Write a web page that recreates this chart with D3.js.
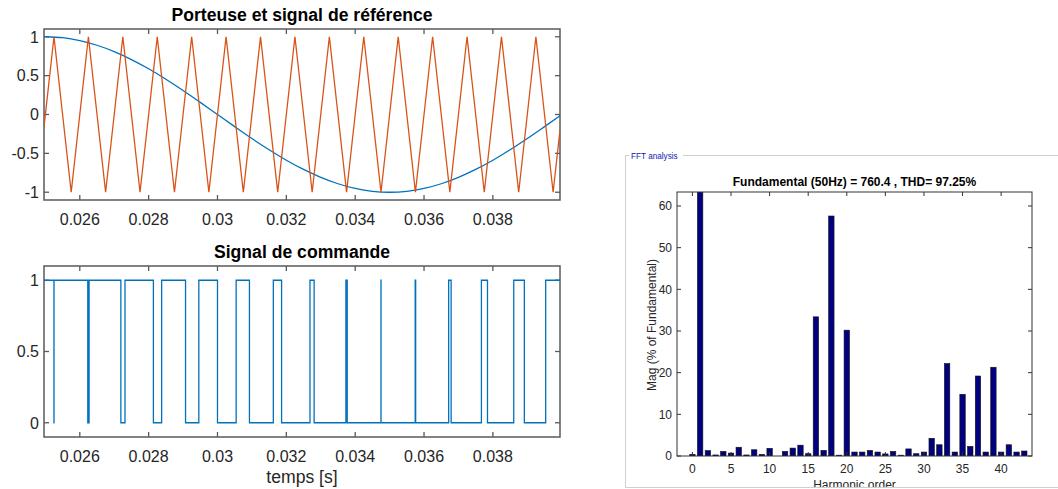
<!DOCTYPE html>
<html>
<head>
<meta charset="utf-8">
<script src="https://cdn.jsdelivr.net/npm/d3@7"></script>
<style>
  body { margin: 0; background: #fff; }
  svg { display: block; font-family: "Liberation Sans", Arial, Helvetica, sans-serif; }
</style>
</head>
<body>
<svg id="chart" width="1058" height="489"></svg>
<script>
// ---------- time-domain signals (s) ----------
const timeRange = [0.02496, 0.03995];

// reference: 50 Hz sinusoid
const refTimes = [0.0250, 0.0255, 0.0260, 0.0265, 0.0270, 0.0275, 0.0280, 0.0285, 0.0290, 0.0295,
                  0.0300, 0.0305, 0.0310, 0.0315, 0.0320, 0.0325, 0.0330, 0.0335, 0.0340, 0.0345,
                  0.0350, 0.0355, 0.0360, 0.0365, 0.0370, 0.0375, 0.0380, 0.0385, 0.0390, 0.0395, 0.0400];
const refValues = [1.000, 0.988, 0.951, 0.891, 0.809, 0.707, 0.588, 0.454, 0.309, 0.156,
                   0.000, -0.156, -0.309, -0.454, -0.588, -0.707, -0.809, -0.891, -0.951, -0.988,
                   -1.000, -0.988, -0.951, -0.891, -0.809, -0.707, -0.588, -0.454, -0.309, -0.156, 0.000];

// carrier: 1 kHz triangle (vertices)
const carrierTimes = [0.02496, 0.02525, 0.02575, 0.02625, 0.02675, 0.02725, 0.02775, 0.02825, 0.02875,
                      0.02925, 0.02975, 0.03025, 0.03075, 0.03125, 0.03175, 0.03225, 0.03275,
                      0.03325, 0.03375, 0.03425, 0.03475, 0.03525, 0.03575, 0.03625, 0.03675,
                      0.03725, 0.03775, 0.03825, 0.03875, 0.03925, 0.03975, 0.03995];
const carrierValues = [-0.16, 1, -1, 1, -1, 1, -1, 1, -1,
                       1, -1, 1, -1, 1, -1, 1, -1,
                       1, -1, 1, -1, 1, -1, 1, -1,
                       1, -1, 1, -1, 1, -1, -0.2];

// command signal: switching instants and the level taken at each one
const cmdTimes = [0.02496, 0.0252492, 0.0252508, 0.0262315, 0.0262696, 0.0271930, 0.0273132,
                  0.0281380, 0.0283776, 0.0290719, 0.0294576, 0.0300000, 0.0305424, 0.0309282,
                  0.0316219, 0.0318620, 0.0326868, 0.0328070, 0.0337301, 0.0337688, 0.0347492,
                  0.0347508, 0.0357432, 0.0357571, 0.0367155, 0.0367875, 0.0376670, 0.0378435,
                  0.0386060, 0.0389142, 0.0395341, 0.03995];
const cmdLevels = [1, 0, 1, 0, 1, 0, 1,
                   0, 1, 0, 1, 0, 1, 0,
                   1, 0, 1, 0, 1, 0, 1,
                   0, 1, 0, 1, 0, 1, 0,
                   1, 0, 1, 1];

const timeTicks = [0.026, 0.028, 0.030, 0.032, 0.034, 0.036, 0.038];
const timeTickLabels = ["0.026", "0.028", "0.03", "0.032", "0.034", "0.036", "0.038"];
const topYTicks = [-1, -0.5, 0, 0.5, 1];
const topYTickLabels = ["-1", "-0.5", "0", "0.5", "1"];
const cmdYTicks = [0, 0.5, 1];
const cmdYTickLabels = ["0", "0.5", "1"];

// ---------- harmonic spectrum (% of fundamental) ----------
const harmonicOrders = [0, 1, 2, 3, 4, 5, 6, 7, 8, 9, 10, 11, 12, 13, 14, 15, 16, 17, 18, 19, 20, 21,
                        22, 23, 24, 25, 26, 27, 28, 29, 30, 31, 32, 33, 34, 35, 36, 37, 38, 39, 40, 41, 42, 43];
const harmonicMag = [0.4, 100, 1.3, 0.25, 1.1, 0.7, 2.1, 0.25, 1.5, 0.4, 1.85, 0, 1.1, 1.9, 2.6, 0.55,
                     33.4, 1.35, 57.6, 0.2, 30.2, 0.95, 0.95, 1.35, 0.95, 0.5, 1.1, 0.2, 1.7, 0.55,
                     0.95, 4.25, 2.7, 22.2, 0.95, 14.8, 2.3, 19.2, 0.95, 21.3, 0.95, 2.7, 0.95, 1.2];
const fftXTicks = [0, 5, 10, 15, 20, 25, 30, 35, 40];
const fftYTicks = [0, 10, 20, 30, 40, 50, 60];
const fftTitle = "Fundamental (50Hz) = 760.4 , THD= 97.25%";

// ---------- drawing ----------
const svg = d3.select("#chart");
svg.append("rect").attr("width", 1058).attr("height", 489).attr("fill", "#fff");
const defs = svg.append("defs");

const TXT = "#262626", AX = "#5a5a5a";
const BLUE = "#0072BD", ORANGE = "#D95319";

function timeAxes(id, box, yDomain, yTicks, yLabels, title) {
  const x = d3.scaleLinear().domain(timeRange).range([box.x0, box.x1]);
  const y = d3.scaleLinear().domain(yDomain).range([box.y1, box.y0]);
  const g = svg.append("g");
  defs.append("clipPath").attr("id", id)
    .append("rect").attr("x", box.x0).attr("y", box.y0)
    .attr("width", box.x1 - box.x0).attr("height", box.y1 - box.y0);

  const tl = 5;
  // x ticks (bottom and top, pointing inward)
  timeTicks.forEach((t, i) => {
    const px = x(t);
    g.append("line").attr("x1", px).attr("x2", px).attr("y1", box.y1).attr("y2", box.y1 - tl)
      .attr("stroke", AX).attr("stroke-width", 1.3);
    g.append("line").attr("x1", px).attr("x2", px).attr("y1", box.y0).attr("y2", box.y0 + tl)
      .attr("stroke", AX).attr("stroke-width", 1.3);
    g.append("text").attr("x", px).attr("y", box.y1 + 24.5).attr("text-anchor", "middle")
      .attr("font-size", 16).attr("fill", TXT).text(timeTickLabels[i]);
  });
  yTicks.forEach((v, i) => {
    const py = y(v);
    g.append("line").attr("x1", box.x0).attr("x2", box.x0 + tl).attr("y1", py).attr("y2", py)
      .attr("stroke", AX).attr("stroke-width", 1.3);
    g.append("line").attr("x1", box.x1).attr("x2", box.x1 - tl).attr("y1", py).attr("y2", py)
      .attr("stroke", AX).attr("stroke-width", 1.3);
    g.append("text").attr("x", box.x0 - 5).attr("y", py).attr("dy", "0.36em")
      .attr("text-anchor", "end").attr("font-size", 16).attr("fill", TXT).text(yLabels[i]);
  });
  g.append("rect").attr("x", box.x0).attr("y", box.y0)
    .attr("width", box.x1 - box.x0).attr("height", box.y1 - box.y0)
    .attr("fill", "none").attr("stroke", AX).attr("stroke-width", 1.5);
  g.append("text").attr("x", (box.x0 + box.x1) / 2).attr("y", box.y0 - 8)
    .attr("text-anchor", "middle").attr("font-size", 17.6).attr("font-weight", "bold")
    .attr("fill", "#000").text(title);
  return { x, y, g };
}

// upper axes: carrier and reference
const upperAx = timeAxes("clipTop", { x0: 44, x1: 560, y0: 29, y1: 200 }, [-1.1, 1.1],
  topYTicks, topYTickLabels, "Porteuse et signal de référence");
const plotTop = svg.append("g").attr("clip-path", "url(#clipTop)");
plotTop.append("path")
  .datum(refTimes.map((t, i) => [t, refValues[i]]))
  .attr("d", d3.line().x(d => upperAx.x(d[0])).y(d => upperAx.y(d[1])).curve(d3.curveMonotoneX))
  .attr("fill", "none").attr("stroke", BLUE).attr("stroke-width", 1.3);
plotTop.append("path")
  .datum(carrierTimes.map((t, i) => [t, carrierValues[i]]))
  .attr("d", d3.line().x(d => upperAx.x(d[0])).y(d => upperAx.y(d[1])))
  .attr("fill", "none").attr("stroke", ORANGE).attr("stroke-width", 1.3)
  .attr("stroke-linejoin", "miter");

// lower axes: command signal
const lowerAx = timeAxes("clipBot", { x0: 44, x1: 560, y0: 266, y1: 437 }, [-0.1, 1.1],
  cmdYTicks, cmdYTickLabels, "Signal de commande");
const plotBot = svg.append("g").attr("clip-path", "url(#clipBot)");
plotBot.append("path")
  .datum(cmdTimes.map((t, i) => [t, cmdLevels[i]]))
  .attr("d", d3.line().x(d => lowerAx.x(d[0])).y(d => lowerAx.y(d[1])).curve(d3.curveStepAfter))
  .attr("fill", "none").attr("stroke", BLUE).attr("stroke-width", 1.3);
svg.append("text").attr("x", 302).attr("y", 483).attr("text-anchor", "middle")
  .attr("font-size", 17.6).attr("fill", TXT).text("temps [s]");

// ---------- FFT panel ----------
const panel = svg.append("g");
defs.append("clipPath").attr("id", "clipPanel")
  .append("rect").attr("x", 626).attr("y", 156).attr("width", 432).attr("height", 331);
const PANEL = "#cfcfcf";
panel.append("line").attr("x1", 625.5).attr("x2", 625.5).attr("y1", 155.5).attr("y2", 487.5)
  .attr("stroke", PANEL);
panel.append("line").attr("x1", 625.5).attr("x2", 1058).attr("y1", 487.5).attr("y2", 487.5)
  .attr("stroke", PANEL);
panel.append("line").attr("x1", 625.5).attr("x2", 629).attr("y1", 155.5).attr("y2", 155.5)
  .attr("stroke", PANEL);
panel.append("line").attr("x1", 683).attr("x2", 1058).attr("y1", 155.5).attr("y2", 155.5)
  .attr("stroke", PANEL);
panel.append("text").attr("x", 631).attr("y", 159).attr("font-size", 8.2)
  .attr("fill", "#1515b5").text("FFT analysis");

const fbox = { x0: 677, x1: 1032, y0: 192, y1: 456 };
const fx = d3.scaleLinear().domain([-2, 44]).range([fbox.x0, fbox.x1]);
const yMax = 1.1 * d3.max(harmonicMag.filter((_, i) => harmonicOrders[i] !== 1));
const fy = d3.scaleLinear().domain([0, yMax]).range([fbox.y1, fbox.y0]);
defs.append("clipPath").attr("id", "clipFft")
  .append("rect").attr("x", fbox.x0).attr("y", fbox.y0)
  .attr("width", fbox.x1 - fbox.x0).attr("height", fbox.y1 - fbox.y0);

const inner = panel.append("g").attr("clip-path", "url(#clipPanel)");
const bw = 0.7;
inner.append("g").attr("clip-path", "url(#clipFft)")
  .selectAll("rect").data(harmonicOrders).join("rect")
  .attr("x", d => fx(d - bw / 2))
  .attr("width", fx(bw) - fx(0))
  .attr("y", (d, i) => fy(harmonicMag[i]))
  .attr("height", (d, i) => fy(0) - fy(harmonicMag[i]))
  .attr("fill", "#000080").attr("stroke", "#111").attr("stroke-width", 0.6);

const FAX = "#333";
const ftl = 4;
fftXTicks.forEach(v => {
  const px = fx(v);
  inner.append("line").attr("x1", px).attr("x2", px).attr("y1", fbox.y1).attr("y2", fbox.y1 - ftl)
    .attr("stroke", FAX);
  inner.append("line").attr("x1", px).attr("x2", px).attr("y1", fbox.y0).attr("y2", fbox.y0 + ftl)
    .attr("stroke", FAX);
  inner.append("text").attr("x", px).attr("y", 472.5).attr("text-anchor", "middle")
    .attr("font-size", 12).attr("fill", TXT).text(v);
});
fftYTicks.forEach(v => {
  const py = fy(v);
  inner.append("line").attr("x1", fbox.x0).attr("x2", fbox.x0 + ftl).attr("y1", py).attr("y2", py)
    .attr("stroke", FAX);
  inner.append("line").attr("x1", fbox.x1).attr("x2", fbox.x1 - ftl).attr("y1", py).attr("y2", py)
    .attr("stroke", FAX);
  inner.append("text").attr("x", fbox.x0 - 5).attr("y", py).attr("dy", "0.36em")
    .attr("text-anchor", "end").attr("font-size", 12).attr("fill", TXT).text(v);
});
inner.append("rect").attr("x", fbox.x0).attr("y", fbox.y0)
  .attr("width", fbox.x1 - fbox.x0).attr("height", fbox.y1 - fbox.y0)
  .attr("fill", "none").attr("stroke", FAX).attr("stroke-width", 1);
inner.append("text").attr("x", (fbox.x0 + fbox.x1) / 2).attr("y", 186)
  .attr("text-anchor", "middle").attr("font-size", 12).attr("font-weight", "bold")
  .attr("fill", "#000").text(fftTitle);
inner.append("text").attr("transform", "translate(656,325) rotate(-90)")
  .attr("text-anchor", "middle").attr("font-size", 12).attr("fill", TXT)
  .text("Mag (% of Fundamental)");
inner.append("text").attr("x", (fbox.x0 + fbox.x1) / 2).attr("y", 489)
  .attr("text-anchor", "middle").attr("font-size", 12).attr("fill", TXT)
  .text("Harmonic order");
</script>
</body>
</html>
